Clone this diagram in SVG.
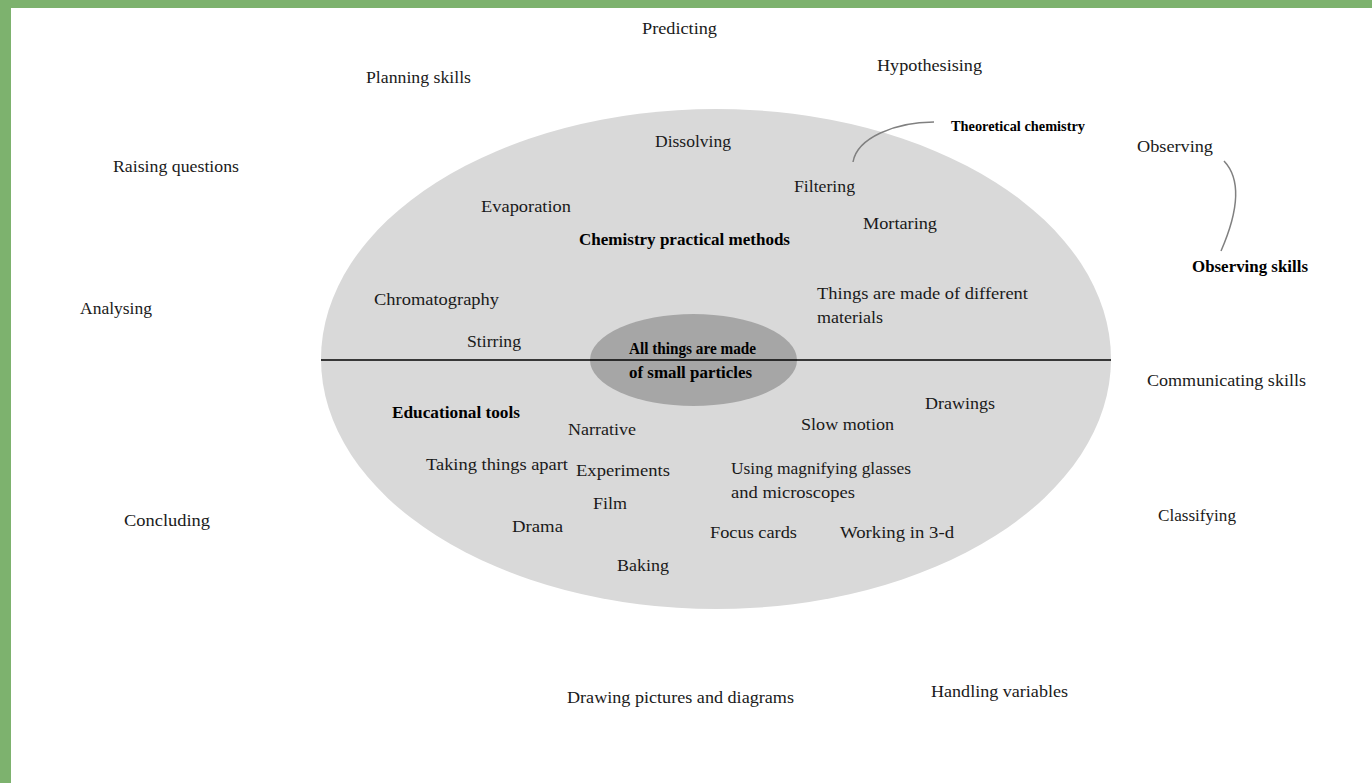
<svg xmlns="http://www.w3.org/2000/svg" width="1372" height="783" viewBox="0 0 1372 783">
<style>
text{font-family:'Liberation Serif','Times New Roman','DejaVu Serif',serif;font-size:17px;fill:#1a1a1a}
.b{font-weight:bold;fill:#000}
.s{font-size:14px}
.con{fill:none;stroke:#808080;stroke-width:1.5}
</style>
<rect x="0" y="0" width="1372" height="783" fill="#ffffff"/>
<rect x="0" y="0" width="1372" height="8" fill="#7db26e"/>
<rect x="0" y="0" width="11" height="783" fill="#7db26e"/>
<g font-family="Liberation Serif, serif">
<g id="outer"><ellipse cx="716" cy="359" rx="395" ry="250" fill="#d9d9d9"/></g>
<g id="core"><ellipse cx="693.5" cy="360" rx="103.5" ry="46" fill="#a6a6a6"/></g>
<g id="divider"><line x1="321" y1="360" x2="1111" y2="360" stroke="#000" stroke-width="1.5"/></g>
<g id="core-label">
<text class="b" x="629" y="354" textLength="127" lengthAdjust="spacingAndGlyphs">All things are made</text>
<text class="b" x="629" y="378" textLength="123" lengthAdjust="spacingAndGlyphs">of small particles</text></g>
<g id="connectors">
<path class="con" d="M853,162 C857,138 895,122 934,122"/>
<path class="con" d="M1224,161 C1242,180 1238,212 1221,251"/>
</g>
<g id="n-predicting"><text x="642" y="34" textLength="75" lengthAdjust="spacingAndGlyphs">Predicting</text></g>
<g id="n-planning"><text x="366" y="83" textLength="105" lengthAdjust="spacingAndGlyphs">Planning skills</text></g>
<g id="n-hypothesising"><text x="877" y="71" textLength="105" lengthAdjust="spacingAndGlyphs">Hypothesising</text></g>
<g id="n-dissolving"><text x="655" y="147" textLength="76" lengthAdjust="spacingAndGlyphs">Dissolving</text></g>
<g id="n-theoretical"><text class="b s" x="951" y="131" textLength="134" lengthAdjust="spacingAndGlyphs">Theoretical chemistry</text></g>
<g id="n-observing"><text x="1137" y="152" textLength="76" lengthAdjust="spacingAndGlyphs">Observing</text></g>
<g id="n-raising"><text x="113" y="172" textLength="126" lengthAdjust="spacingAndGlyphs">Raising questions</text></g>
<g id="n-filtering"><text x="794" y="192" textLength="61" lengthAdjust="spacingAndGlyphs">Filtering</text></g>
<g id="n-evaporation"><text x="481" y="212" textLength="90" lengthAdjust="spacingAndGlyphs">Evaporation</text></g>
<g id="n-mortaring"><text x="863" y="229" textLength="74" lengthAdjust="spacingAndGlyphs">Mortaring</text></g>
<g id="n-chemistry"><text class="b" x="579" y="245" textLength="211" lengthAdjust="spacingAndGlyphs">Chemistry practical methods</text></g>
<g id="n-observing-skills"><text class="b" x="1192" y="272" textLength="116" lengthAdjust="spacingAndGlyphs">Observing skills</text></g>
<g id="n-analysing"><text x="80" y="314" textLength="72" lengthAdjust="spacingAndGlyphs">Analysing</text></g>
<g id="n-chromatography"><text x="374" y="305" textLength="125" lengthAdjust="spacingAndGlyphs">Chromatography</text></g>
<g id="n-materials"><text x="817" y="299" textLength="211" lengthAdjust="spacingAndGlyphs">Things are made of different</text>
<text x="817" y="323" textLength="66" lengthAdjust="spacingAndGlyphs">materials</text></g>
<g id="n-stirring"><text x="467" y="347" textLength="54" lengthAdjust="spacingAndGlyphs">Stirring</text></g>
<g id="n-communicating"><text x="1147" y="386" textLength="159" lengthAdjust="spacingAndGlyphs">Communicating skills</text></g>
<g id="n-educational"><text class="b" x="392" y="418" textLength="128" lengthAdjust="spacingAndGlyphs">Educational tools</text></g>
<g id="n-drawings"><text x="925" y="409" textLength="70" lengthAdjust="spacingAndGlyphs">Drawings</text></g>
<g id="n-slow"><text x="801" y="430" textLength="93" lengthAdjust="spacingAndGlyphs">Slow motion</text></g>
<g id="n-narrative"><text x="568" y="435" textLength="68" lengthAdjust="spacingAndGlyphs">Narrative</text></g>
<g id="n-taking"><text x="426" y="470" textLength="142" lengthAdjust="spacingAndGlyphs">Taking things apart</text></g>
<g id="n-experiments"><text x="576" y="476" textLength="94" lengthAdjust="spacingAndGlyphs">Experiments</text></g>
<g id="n-magnifying"><text x="731" y="474" textLength="180" lengthAdjust="spacingAndGlyphs">Using magnifying glasses</text>
<text x="731" y="498" textLength="124" lengthAdjust="spacingAndGlyphs">and microscopes</text></g>
<g id="n-film"><text x="593" y="509" textLength="34" lengthAdjust="spacingAndGlyphs">Film</text></g>
<g id="n-drama"><text x="512" y="532" textLength="51" lengthAdjust="spacingAndGlyphs">Drama</text></g>
<g id="n-focus"><text x="710" y="538" textLength="87" lengthAdjust="spacingAndGlyphs">Focus cards</text></g>
<g id="n-working"><text x="840" y="538" textLength="114" lengthAdjust="spacingAndGlyphs">Working in 3-d</text></g>
<g id="n-classifying"><text x="1158" y="521" textLength="78" lengthAdjust="spacingAndGlyphs">Classifying</text></g>
<g id="n-concluding"><text x="124" y="526" textLength="86" lengthAdjust="spacingAndGlyphs">Concluding</text></g>
<g id="n-baking"><text x="617" y="571" textLength="52" lengthAdjust="spacingAndGlyphs">Baking</text></g>
<g id="n-drawing-pictures"><text x="567" y="703" textLength="227" lengthAdjust="spacingAndGlyphs">Drawing pictures and diagrams</text></g>
<g id="n-handling"><text x="931" y="697" textLength="137" lengthAdjust="spacingAndGlyphs">Handling variables</text></g>
</g>
</svg>
